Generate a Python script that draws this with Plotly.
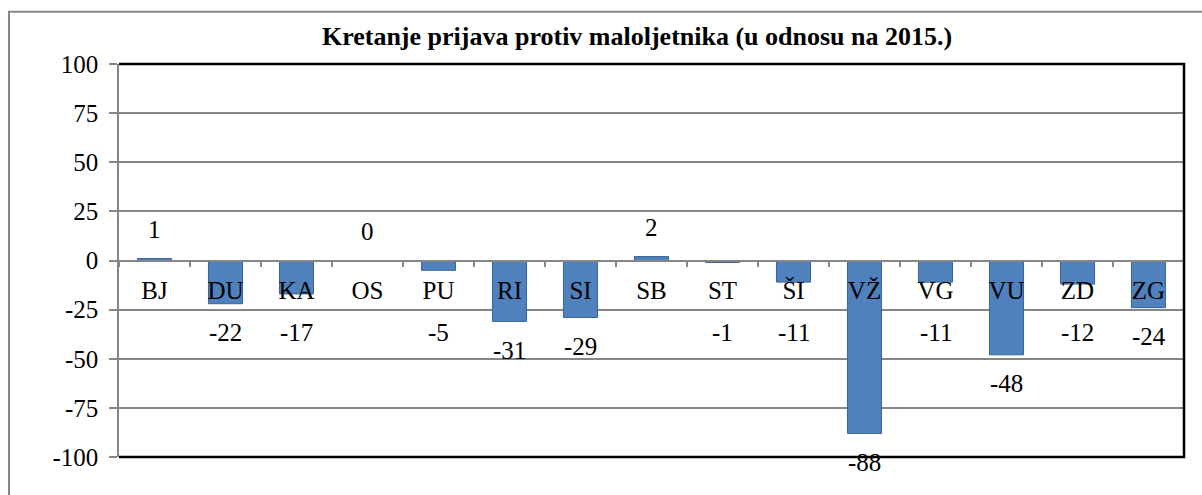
import plotly.graph_objects as go

categories = ["BJ", "DU", "KA", "OS", "PU", "RI", "SI", "SB", "ST", "ŠI", "VŽ", "VG", "VU", "ZD", "ZG"]
values = [1, -22, -17, 0, -5, -31, -29, 2, -1, -11, -88, -11, -48, -12, -24]
y_ticks = [-100, -75, -50, -25, 0, 25, 50, 75, 100]
title_text = "Kretanje prijava protiv maloljetnika (u odnosu na 2015.)"

FONT = "Liberation Serif, Times New Roman, serif"
GRID = "#868686"

fig = go.Figure()
fig.add_trace(go.Bar(
    x=categories, y=values,
    marker=dict(color="#4F81BD", line=dict(color="#3A6496", width=1)),
    hoverinfo="x+y",
))

annotations = []
for c, v in zip(categories, values):
    if v >= 0:
        annotations.append(dict(x=c, y=v, yshift=29, text=str(v), showarrow=False,
                                font=dict(family=FONT, size=25, color="black")))
    else:
        annotations.append(dict(x=c, y=min(v, -22), yshift=-29, text=str(v), showarrow=False,
                                font=dict(family=FONT, size=25, color="black")))

fig.update_layout(
    width=1202, height=495,
    margin=dict(l=119, r=18, t=64, b=38),
    paper_bgcolor="white", plot_bgcolor="white",
    showlegend=False,
    bargap=0.52,
    title=dict(text="<b>" + title_text + "</b>", x=0.53, xanchor="center", y=0.927, yanchor="middle",
               font=dict(family=FONT, size=26, color="black")),
    annotations=annotations,
    xaxis=dict(
        anchor="free", position=0.5,
        showline=True, linecolor=GRID, linewidth=1.5,
        ticks="outside", tickson="boundaries", ticklen=6, tickcolor=GRID, tickwidth=1.5,
        tickfont=dict(family=FONT, size=25, color="black"),
        ticklabelstandoff=8,
        showgrid=False, zeroline=False, layer="above traces",
        automargin=False,
    ),
    yaxis=dict(
        range=[-100, 100], tickvals=y_ticks, ticktext=[str(t) for t in y_ticks],
        showgrid=True, gridcolor=GRID, gridwidth=1.5,
        zeroline=False,
        showline=True, linecolor=GRID, linewidth=1.5,
        ticks="outside", ticklen=8, tickcolor=GRID, tickwidth=1.5,
        tickfont=dict(family=FONT, size=25, color="black"),
        ticklabelstandoff=6,
        automargin=False,
    ),
    shapes=[
        dict(type="path", xref="paper", yref="paper",
             path="M 0,1 L 1,1 L 1,0 L 0,0", line=dict(color="black", width=2.5), layer="above"),
        dict(type="path", xref="paper", yref="paper",
             path="M -0.1033,-0.3 L -0.1033,1.133 L 1.2,1.133", line=dict(color=GRID, width=2), layer="above"),
    ],
)

fig.write_html("out.html", config={"displayModeBar": False},
               post_script="document.body.style.margin='0px';")
